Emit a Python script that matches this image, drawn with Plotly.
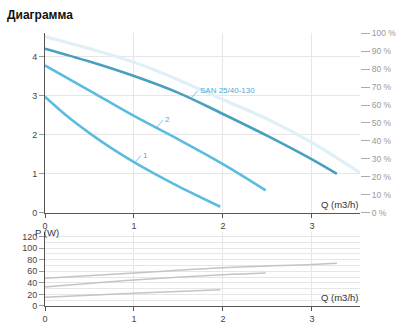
import plotly.graph_objects as go

# Pump head curves H(Q), m
q_san = [0, 0.5, 1, 1.5, 2, 2.5, 3, 3.28]
h_san = [4.2, 3.87, 3.5, 3.07, 2.53, 1.97, 1.37, 1.0]

q_2 = [0, 0.5, 1, 1.5, 2, 2.48]
h_2 = [3.77, 3.13, 2.48, 1.88, 1.25, 0.58]

q_1 = [0, 0.25, 0.5, 0.75, 1, 1.25, 1.5, 1.75, 1.97]
h_1 = [2.97, 2.47, 2.04, 1.65, 1.3, 0.98, 0.68, 0.4, 0.16]

# Envelope curve
q_env = [0, 0.5, 1, 1.5, 2, 2.5, 3, 3.54]
h_env = [4.51, 4.2, 3.85, 3.4, 2.9, 2.4, 1.8, 1.03]

# Power input P(Q), W
q_p_san = [0, 1, 2, 3, 3.28]
p_san = [48, 57, 66, 72, 74]
q_p_2 = [0, 1, 2, 2.48]
p_2 = [33, 45, 54, 57]
q_p_1 = [0, 1, 1.97]
p_1 = [15, 22, 28]

h_ticks = [0, 1, 2, 3, 4]
pct_ticks = list(range(0, 101, 10))
p_ticks = list(range(0, 121, 20))
q_ticks = [0, 1, 2, 3]

dark = "rgb(72,160,190)"
light = "rgb(92,188,224)"
grid = "#e6e6e6"
axis_c = "#555555"
txt = "#444444"
font_family = "Liberation Sans, Arial, sans-serif"

fig = go.Figure()

fig.add_trace(go.Scatter(x=q_env, y=h_env, mode="lines", line=dict(color="#e0f0f8", width=3.2, shape="spline"),
                         xaxis="x", yaxis="y", hoverinfo="skip"))
fig.add_trace(go.Scatter(x=q_san, y=h_san, mode="lines", line=dict(color=dark, width=2.6, shape="spline"),
                         xaxis="x", yaxis="y"))
fig.add_trace(go.Scatter(x=q_2, y=h_2, mode="lines", line=dict(color=light, width=2.6, shape="spline"),
                         xaxis="x", yaxis="y"))
fig.add_trace(go.Scatter(x=q_1, y=h_1, mode="lines", line=dict(color=light, width=2.6, shape="spline"),
                         xaxis="x", yaxis="y"))
# invisible point keeps the percent axis drawn
fig.add_trace(go.Scatter(x=[0], y=[0], mode="markers", marker=dict(opacity=0), xaxis="x", yaxis="y2",
                         hoverinfo="skip"))

for qq, pp in [(q_p_san, p_san), (q_p_2, p_2), (q_p_1, p_1)]:
    fig.add_trace(go.Scatter(x=qq, y=pp, mode="lines", line=dict(color="#c4c4c4", width=1.5, shape="spline"),
                             xaxis="x2", yaxis="y3"))

tick_font = dict(size=9, color=txt, family=font_family)
xr = [0, 3.54]

fig.update_layout(
    width=400, height=326,
    margin=dict(l=45, r=40, t=33, b=20),
    paper_bgcolor="white", plot_bgcolor="white",
    showlegend=False,
    font=dict(family=font_family, color=txt),
    title=dict(text="<b>Диаграмма</b>", x=7 / 400, xanchor="left", y=1 - 15 / 326, yanchor="middle",
               font=dict(size=12, color="#111111", family=font_family)),
    xaxis=dict(domain=[0, 1], range=xr, anchor="y", tickvals=q_ticks, showgrid=True, gridcolor=grid,
               showline=True, linecolor=axis_c, ticks="outside", ticklen=4, tickcolor=axis_c,
               tickfont=tick_font, zeroline=False, automargin=False),
    yaxis=dict(domain=[0.3407, 1], range=[0, 4.6], anchor="x", tickvals=h_ticks, showgrid=True,
               gridcolor=grid, showline=True, linecolor=axis_c, ticks="outside", ticklen=5,
               tickcolor="#999999", tickfont=tick_font, zeroline=False, automargin=False),
    yaxis2=dict(overlaying="y", side="right", range=[0, 100], tickvals=pct_ticks,
                ticktext=[f"{v} %" for v in pct_ticks], showgrid=False, showline=False, ticks="outside",
                ticklen=9, tickcolor="#aaaaaa", tickfont=dict(size=8.5, color="#999999", family=font_family),
                zeroline=False, automargin=False),
    xaxis2=dict(domain=[0, 1], range=xr, anchor="y3", tickvals=q_ticks, showgrid=True, gridcolor=grid,
                showline=True, linecolor=axis_c, ticks="outside", ticklen=4, tickcolor=axis_c,
                tickfont=tick_font, zeroline=False, automargin=False),
    yaxis3=dict(domain=[0, 0.271], range=[0, 128], anchor="x2", tickvals=p_ticks, showgrid=True,
                gridcolor=grid, showline=True, linecolor=axis_c, ticks="outside", ticklen=5,
                tickcolor="#999999", tickfont=tick_font, zeroline=False, automargin=False,
                minor=dict(dtick=10, showgrid=True, gridcolor=grid, ticks="")),
)

ann = []
ann.append(dict(text="H (m)", x=0, y=4.64, xref="x", yref="y", xanchor="center", yanchor="middle",
                showarrow=False, font=dict(size=9.5, color="#333333")))
ann.append(dict(text="Q (m3/h)", x=1, y=0.02, xref="paper", yref="y", xanchor="right", yanchor="bottom",
                showarrow=False, font=dict(size=9.5, color="#333333")))
ann.append(dict(text="P (W)", x=0.02, y=128, xref="x2", yref="y3", xanchor="center", yanchor="middle",
                showarrow=False, font=dict(size=9.5, color="#333333")))
ann.append(dict(text="Q (m3/h)", x=1, y=1, xref="paper", yref="y3", xanchor="right", yanchor="bottom",
                showarrow=False, font=dict(size=9.5, color="#333333")))
labels = [("SAN 25/40-130", 1.65, 2.95), ("2", 1.26, 2.2), ("1", 1.01, 1.29)]
for text, lx, ly in labels:
    ann.append(dict(text=text, x=lx, y=ly, xref="x", yref="y", showarrow=True, arrowhead=0,
                    arrowwidth=0.8, arrowcolor=light, ax=6, ay=-7, xanchor="left", yanchor="middle",
                    font=dict(size=8, color="rgb(80,170,210)")))
fig.update_layout(annotations=ann)

fig.write_html("out.html")
